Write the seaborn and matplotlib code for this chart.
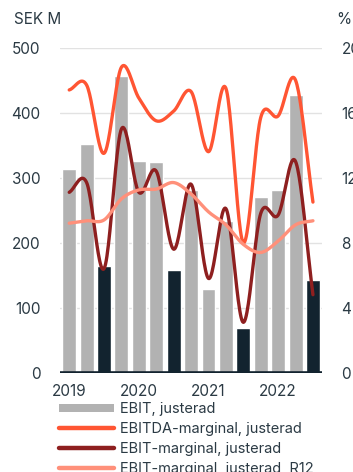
import numpy as np
import pandas as pd
import matplotlib
matplotlib.use("Agg")
import matplotlib.pyplot as plt
from matplotlib.patches import Patch
from matplotlib.lines import Line2D
import seaborn as sns

# ---- data ----
quarters = ["Q1-19", "Q2-19", "Q3-19", "Q4-19", "Q1-20", "Q2-20", "Q3-20", "Q4-20",
            "Q1-21", "Q2-21", "Q3-21", "Q4-21", "Q1-22", "Q2-22", "Q3-22"]
ebit = [314, 352, 164, 456, 326, 324, 158, 281, 129, 233, 69, 270, 281, 427, 143]
highlight = [False, False, True, False, False, False, True, False,
             False, False, True, False, False, False, True]
ebitda_margin = [17.4, 17.7, 13.5, 18.8, 16.9, 15.5, 16.1, 17.3, 13.6, 17.5, 8.0, 15.7, 15.8, 18.0, 10.5]
ebit_margin = [11.1, 11.7, 6.4, 15.0, 11.1, 12.4, 7.6, 11.6, 5.8, 10.1, 3.1, 9.8, 9.7, 13.0, 4.8]
ebit_margin_r12 = [9.2, 9.35, 9.4, 10.7, 11.25, 11.3, 11.7, 11.0, 9.9, 9.1, 7.9, 7.4, 8.1, 9.1, 9.35]
year_ticks = [0, 4, 8, 12]
year_labels = ["2019", "2020", "2021", "2022"]
legend_labels = ["EBIT, justerad", "EBITDA-marginal, justerad",
                 "EBIT-marginal, justerad", "EBIT-marginal, justerad, R12"]

# ---- style ----
GRAY = "#B2B2B2"
NAVY = "#12232F"
C_EBITDA = "#FF5533"
C_EBIT = "#8E1F1F"
C_R12 = "#FF907A"
TXT = "#2B3A44"
GRID = "#E2E2E2"

sns.set_theme(style="white")
plt.rcParams["font.family"] = ["Inter", "DejaVu Sans"]


def smooth(y, n=24):
    """Catmull-Rom rendering of a series through its points."""
    y = np.asarray(y, float)
    p = np.concatenate([[2 * y[0] - y[1]], y, [2 * y[-1] - y[-2]]])
    xs, ys = [], []
    for i in range(len(y) - 1):
        t = np.linspace(0, 1, n, endpoint=False)
        p0, p1, p2, p3 = p[i], p[i + 1], p[i + 2], p[i + 3]
        seg = 0.5 * ((2 * p1) + (-p0 + p2) * t + (2 * p0 - 5 * p1 + 4 * p2 - p3) * t ** 2
                     + (-p0 + 3 * p1 - 3 * p2 + p3) * t ** 3)
        xs.append(i + t)
        ys.append(seg)
    xs.append([len(y) - 1])
    ys.append([y[-1]])
    return np.concatenate(xs), np.concatenate(ys)


W, H = 353, 472
fig = plt.figure(figsize=(W / 100, H / 100), dpi=100)
ax = fig.add_axes([60 / W, 1 - 372.7 / H, 262 / W, 325 / H])

df = pd.DataFrame({"quarter": quarters, "ebit": ebit,
                   "kind": ["hl" if h else "std" for h in highlight]})
sns.barplot(data=df, x="quarter", y="ebit", hue="kind", order=quarters,
            palette={"std": GRAY, "hl": NAVY}, dodge=False, width=0.8,
            legend=False, ax=ax, saturation=1)
ax.set_ylim(0, 500)
ax.set_xlim(-0.53, len(quarters) - 0.48)
ax.set_yticks([0, 100, 200, 300, 400, 500])
ax.yaxis.grid(True, color=GRID, lw=1)
ax.set_axisbelow(True)
ax.set_xlabel("")
ax.set_ylabel("")
ax.set_xticks(year_ticks)
ax.set_xticklabels(year_labels)
for s in ax.spines.values():
    s.set_visible(False)
ax.tick_params(axis="both", length=0, labelsize=11, colors=TXT)
ax.tick_params(axis="y", pad=14)
ax.tick_params(axis="x", pad=8)

ax2 = ax.twinx()
for vals, col in [(ebitda_margin, C_EBITDA), (ebit_margin, C_EBIT), (ebit_margin_r12, C_R12)]:
    xs, ys = smooth(vals)
    sns.lineplot(x=xs, y=ys, color=col, lw=2.4, ax=ax2, sort=False, estimator=None)
ax2.set_ylim(0, 20)
ax2.set_xlim(ax.get_xlim())
ax2.set_yticks([0, 4, 8, 12, 16, 20])
ax2.set_ylabel("")
for s in ax2.spines.values():
    s.set_visible(False)
ax2.tick_params(axis="both", length=0, labelsize=11, colors=TXT)
ax2.tick_params(axis="y", pad=14)
ax2.axhline(0, color=NAVY, lw=2.6, zorder=5)

fig.text(14 / W, 1 - 20 / H, "SEK M", fontsize=11, color=TXT, va="center", ha="left")
fig.text(336 / W, 1 - 20 / H, "%", fontsize=11, color=TXT, va="center", ha="left")

handles = [Patch(facecolor=GRAY, edgecolor="none"),
           Line2D([], [], color=C_EBITDA, lw=3.2),
           Line2D([], [], color=C_EBIT, lw=3.2),
           Line2D([], [], color=C_R12, lw=3.2)]
fig.legend(handles, legend_labels, loc="upper left", bbox_to_anchor=(59 / W, 1 - 402 / H),
           frameon=False, fontsize=10.5, handlelength=3.8, handleheight=0.5,
           handletextpad=0.35, labelspacing=0.4, borderpad=0, borderaxespad=0,
           labelcolor=TXT)

fig.savefig("out.png", dpi=100)
